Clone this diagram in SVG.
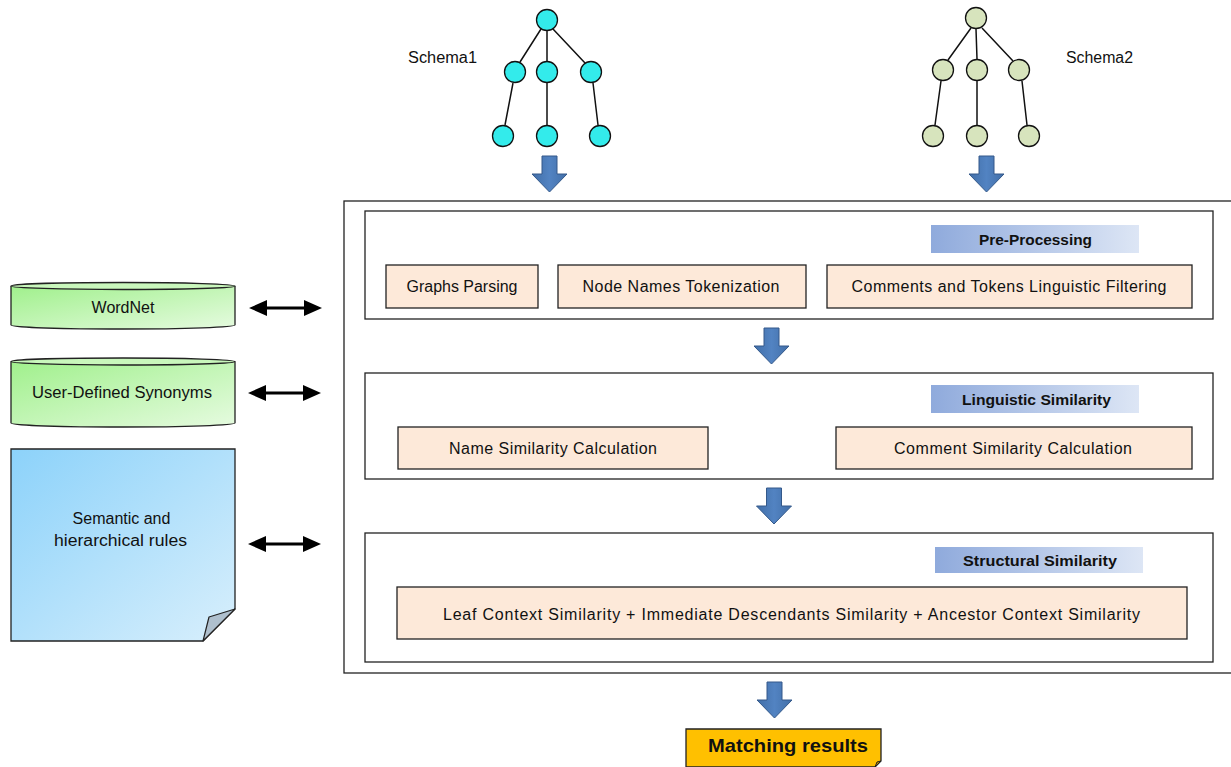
<svg xmlns="http://www.w3.org/2000/svg" xmlns:xlink="http://www.w3.org/1999/xlink" width="1231" height="767" viewBox="0 0 1231 767">
<style>
text{font-family:"Liberation Sans",Arial,sans-serif;fill:#111;}
.t{font-size:16px;text-anchor:middle;}
.h{font-size:15.5px;font-weight:bold;text-anchor:middle;}
.frame{fill:#fff;stroke:#222;stroke-width:1.3;}
.proc{fill:#FDE9D9;stroke:#222;stroke-width:1.3;}
.hdr{fill:url(#hdrGrad);}
.n1{fill:#33EBEB;stroke:#111;stroke-width:1.3;}
.n2{fill:#D7E4BD;stroke:#111;stroke-width:1.3;}
.edge{stroke:#111;stroke-width:1.5;fill:none;}
.barrow{fill:url(#arrGrad);stroke:#34598A;stroke-width:1;}
.darrow{fill:#000;}
</style>
<defs>
<linearGradient id="hdrGrad" x1="0" y1="0" x2="1" y2="0">
<stop offset="0" stop-color="#8FAADC"/>
<stop offset="1" stop-color="#DDE6F5"/>
</linearGradient>
<linearGradient id="arrGrad" x1="0" y1="0" x2="1" y2="0">
<stop offset="0" stop-color="#426FA8"/>
<stop offset="0.5" stop-color="#5283C2"/>
<stop offset="1" stop-color="#426FA8"/>
</linearGradient>
<linearGradient id="cylGrad" x1="0" y1="0" x2="1" y2="1">
<stop offset="0" stop-color="#A0F08C"/>
<stop offset="1" stop-color="#E6FBE0"/>
</linearGradient>
<linearGradient id="noteGrad" x1="0" y1="0" x2="1" y2="1">
<stop offset="0" stop-color="#8CD2FA"/>
<stop offset="1" stop-color="#D8EFFC"/>
</linearGradient>
<path id="blockArrow" d="M-7.5,0 H7.5 V18 H17.5 L0,36 L-17.5,18 H-7.5 Z"/>
<path id="dblArrow" d="M0,0 L18,-8 L18,-1.5 H55 V-8 L73,0 L55,8 V1.5 H18 V8 Z"/>
</defs>
<rect width="1231" height="767" fill="#fff"/>

<g id="schema1">
<text x="408" y="63" style="font-size:16px" textLength="69" lengthAdjust="spacingAndGlyphs">Schema1</text>
<circle class="n1" cx="547" cy="20" r="10.5"/>
<circle class="n1" cx="515" cy="72" r="10.5"/>
<circle class="n1" cx="547" cy="72" r="10.5"/>
<circle class="n1" cx="591" cy="72" r="10.5"/>
<circle class="n1" cx="503" cy="136" r="10.5"/>
<circle class="n1" cx="547" cy="136" r="10.5"/>
<circle class="n1" cx="600" cy="136" r="10.5"/>
</g>

<g id="schema2">
<text x="1066" y="63" style="font-size:16px" textLength="67" lengthAdjust="spacingAndGlyphs">Schema2</text>
<circle class="n2" cx="976" cy="18" r="10.5"/>
<circle class="n2" cx="943" cy="70" r="10.5"/>
<circle class="n2" cx="977" cy="70" r="10.5"/>
<circle class="n2" cx="1019" cy="70" r="10.5"/>
<circle class="n2" cx="933" cy="136" r="10.5"/>
<circle class="n2" cx="977" cy="136" r="10.5"/>
<circle class="n2" cx="1029" cy="136" r="10.5"/>
</g>

<g id="wordnet">
<path d="M11,286 V325 A112,4 0 0 0 235,325 V286" fill="url(#cylGrad)" stroke="#222" stroke-width="1.3"/>
<ellipse cx="123" cy="286" rx="112" ry="3.5" fill="#C9F7BC" stroke="#222" stroke-width="1.3"/>
<text class="t" x="123" y="313">WordNet</text>
</g>

<g id="synonyms">
<path d="M11,361.5 V423 A112,4 0 0 0 235,423 V361.5" fill="url(#cylGrad)" stroke="#222" stroke-width="1.3"/>
<ellipse cx="123" cy="361.5" rx="112" ry="3.5" fill="#C9F7BC" stroke="#222" stroke-width="1.3"/>
<text class="t" x="122" y="398" textLength="180" lengthAdjust="spacingAndGlyphs">User-Defined Synonyms</text>
</g>

<g id="rules">
<path d="M11,449 H235 V609 L203,641 H11 Z" fill="url(#noteGrad)" stroke="#222" stroke-width="1.3"/>
<path d="M235,609 L209,617 L203,641 Z" fill="#AFC0CE" stroke="#222" stroke-width="1.2" stroke-linejoin="round"/>
<text class="t" x="121.5" y="524">Semantic and</text>
<text class="t" x="120.5" y="546" textLength="133" lengthAdjust="spacingAndGlyphs">hierarchical rules</text>
</g>

<g id="framework">
<rect class="frame" x="344" y="201" width="890" height="472"/>
</g>

<g id="preprocessing">
<rect class="frame" x="365" y="211" width="848" height="108"/>
<rect class="hdr" x="931" y="225" width="208" height="28"/>
<text class="h" x="1035.5" y="245" textLength="113" lengthAdjust="spacingAndGlyphs">Pre-Processing</text>
<rect class="proc" x="386" y="265" width="152" height="43"/>
<text class="t" x="462" y="292" textLength="111" lengthAdjust="spacingAndGlyphs">Graphs Parsing</text>
<rect class="proc" x="558" y="265" width="248" height="43"/>
<text class="t" x="681" y="292" textLength="197" lengthAdjust="spacing">Node Names  Tokenization</text>
<rect class="proc" x="827" y="265" width="365" height="43"/>
<text class="t" x="1009" y="292" textLength="315" lengthAdjust="spacing">Comments and Tokens Linguistic Filtering</text>
</g>

<g id="linguistic">
<rect class="frame" x="365" y="373" width="848" height="106"/>
<rect class="hdr" x="931" y="385" width="208" height="28"/>
<text class="h" x="1036.5" y="405" textLength="149" lengthAdjust="spacingAndGlyphs">Linguistic Similarity</text>
<rect class="proc" x="398" y="427" width="310" height="42"/>
<text class="t" x="553" y="454" textLength="208" lengthAdjust="spacing">Name  Similarity  Calculation</text>
<rect class="proc" x="836" y="427" width="356" height="42"/>
<text class="t" x="1013" y="454" textLength="238" lengthAdjust="spacing">Comment Similarity Calculation</text>
</g>

<g id="structural">
<rect class="frame" x="365" y="533" width="848" height="129"/>
<rect class="hdr" x="935" y="547" width="208" height="26"/>
<text class="h" x="1040" y="566" textLength="154" lengthAdjust="spacingAndGlyphs">Structural Similarity</text>
<rect class="proc" x="397" y="587" width="790" height="52"/>
<text class="t" x="791.5" y="620" textLength="697" lengthAdjust="spacing">Leaf Context  Similarity   +  Immediate  Descendants Similarity  +  Ancestor  Context Similarity</text>
</g>

<g id="results">
<path d="M686,729 H881 V761 L875,767 H686 Z" fill="#FFC000" stroke="#222" stroke-width="1.3"/>
<path d="M881,761 L877,762 L875,767 Z" fill="#C09000" stroke="#222" stroke-width="1"/>
<text x="788" y="752" style="font-size:19px;font-weight:bold;text-anchor:middle" textLength="160" lengthAdjust="spacingAndGlyphs">Matching results</text>
</g>

<g id="connectors">
<path class="edge" d="M541,29 L520,62 M547,31 V61 M553,29 L585,63 M513,83 L505,125 M547,83 V125 M593,83 L598,125"/>
<path class="edge" d="M971,28 L948,60 M976,29 L977,59 M982,28 L1013,61 M941,81 L935,125 M977,81 V125 M1022,81 L1027,125"/>
<use href="#blockArrow" class="barrow" transform="translate(549.5,156)"/>
<use href="#blockArrow" class="barrow" transform="translate(986.5,156)"/>
<use href="#blockArrow" class="barrow" transform="translate(771.5,328)"/>
<use href="#blockArrow" class="barrow" transform="translate(774,488)"/>
<use href="#blockArrow" class="barrow" transform="translate(774.5,682)"/>
<use href="#dblArrow" class="darrow" transform="translate(249,308)"/>
<use href="#dblArrow" class="darrow" transform="translate(248,393)"/>
<use href="#dblArrow" class="darrow" transform="translate(248,544)"/>
</g>
</svg>
